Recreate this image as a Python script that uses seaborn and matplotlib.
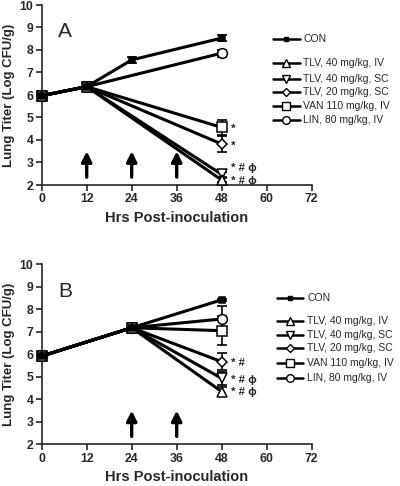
import numpy as np
import pandas as pd
import matplotlib
matplotlib.use("Agg")
import matplotlib.pyplot as plt
import seaborn as sns
from matplotlib.lines import Line2D

sns.set_style("ticks")
plt.rcParams["font.family"] = ["Liberation Sans", "DejaVu Sans"]

# ---------------- data ----------------
series_labels = ["CON", "TLV, 40 mg/kg, IV", "TLV, 40 mg/kg, SC",
                 "TLV, 20 mg/kg, SC", "VAN 110 mg/kg, IV", "LIN, 80 mg/kg, IV"]

# Panel A (dosing at 12, 24, 36 h)
a_hours_con = [0, 12, 24, 48]
a_hours = [0, 12, 48]
a_con = [5.97, 6.37, 7.56, 8.53]
a_con_err = [0.05, 0.2, 0.15, 0.15]
a_tlv40iv = [5.97, 6.37, 2.22]
a_tlv40iv_err = [0.05, 0.2, 0.08]
a_tlv40sc = [5.97, 6.37, 2.47]
a_tlv40sc_err = [0.05, 0.2, 0.1]
a_tlv20sc = [5.97, 6.37, 3.82]
a_tlv20sc_err = [0.05, 0.2, 0.35]
a_van = [5.97, 6.37, 4.56]
a_van_err = [0.05, 0.2, 0.35]
a_lin = [5.97, 6.37, 7.86]
a_lin_err = [0.05, 0.2, 0.15]
a_arrows = [12, 24, 36]
a_marks = ["*", "*", "* # ϕ", "* # ϕ"]
a_mark_y = [4.5, 3.75, 2.76, 2.2]

# Panel B (dosing at 24, 36 h)
b_hours = [0, 24, 48]
b_con = [5.92, 7.18, 8.42]
b_con_err = [0.05, 0.12, 0.05]
b_tlv40iv = [5.92, 7.18, 4.34]
b_tlv40iv_err = [0.05, 0.12, 0.2]
b_tlv40sc = [5.92, 7.18, 4.93]
b_tlv40sc_err = [0.05, 0.12, 0.3]
b_tlv20sc = [5.92, 7.18, 5.67]
b_tlv20sc_err = [0.05, 0.12, 0.38]
b_van = [5.92, 7.18, 7.05]
b_van_err = [0.05, 0.12, 0.65]
b_lin = [5.92, 7.18, 7.57]
b_lin_err = [0.05, 0.12, 0.58]
b_arrows = [24, 36]
b_marks = ["* #", "* # ϕ", "* # ϕ"]
b_mark_y = [5.6, 4.88, 4.32]

x_ticks = [0, 12, 24, 36, 48, 60, 72]
y_ticks = [2, 3, 4, 5, 6, 7, 8, 9, 10]

# ---------------- styles ----------------
styles = {
    "CON": dict(marker="s", ms=4, mfc="black"),
    "TLV, 40 mg/kg, IV": dict(marker="^", ms=7.5, mfc="white"),
    "TLV, 40 mg/kg, SC": dict(marker="v", ms=7.5, mfc="white"),
    "TLV, 20 mg/kg, SC": dict(marker="D", ms=5, mfc="white"),
    "VAN 110 mg/kg, IV": dict(marker="s", ms=6.5, mfc="white"),
    "LIN, 80 mg/kg, IV": dict(marker="o", ms=7, mfc="white"),
}
legend_ms = {"CON": 3.5, "TLV, 40 mg/kg, IV": 6, "TLV, 40 mg/kg, SC": 5.5,
             "TLV, 20 mg/kg, SC": 4, "VAN 110 mg/kg, IV": 5.5, "LIN, 80 mg/kg, IV": 5.5}


def build(hours_con, hours, vals):
    rows = []
    for lab, (v, e) in zip(series_labels, vals):
        hh = hours_con if lab == "CON" else hours
        for h, y, er in zip(hh, v, e):
            rows.append(dict(series=lab, hours=h, titer=y, err=er))
    return pd.DataFrame(rows)


dfA = build(a_hours_con, a_hours, [(a_con, a_con_err), (a_tlv40iv, a_tlv40iv_err),
                                   (a_tlv40sc, a_tlv40sc_err), (a_tlv20sc, a_tlv20sc_err),
                                   (a_van, a_van_err), (a_lin, a_lin_err)])
dfB = build(b_hours, b_hours, [(b_con, b_con_err), (b_tlv40iv, b_tlv40iv_err),
                               (b_tlv40sc, b_tlv40sc_err), (b_tlv20sc, b_tlv20sc_err),
                               (b_van, b_van_err), (b_lin, b_lin_err)])

W, H = 400, 486
fig = plt.figure(figsize=(W / 100, H / 100), dpi=100)


def px_rect(x0, y0, x1, y1):
    return [x0 / W, 1 - y1 / H, (x1 - x0) / W, (y1 - y0) / H]


axA = fig.add_axes(px_rect(41.7, 5, 311.7, 185))
axB = fig.add_axes(px_rect(41.7, 264.3, 311.7, 444.3))


def draw_panel(ax, df, letter, arrows, marks, mark_y):
    order = series_labels[::-1]
    for lab in order:
        sub = df[df.series == lab]
        st = styles[lab]
        ax.errorbar(sub.hours, sub.titer, yerr=sub.err, fmt="none", ecolor="black",
                    elinewidth=1.2, capsize=3.5, capthick=1.2, zorder=2, clip_on=False)
        sns.lineplot(data=sub, x="hours", y="titer", ax=ax, color="black", lw=2.2,
                     marker=st["marker"], markersize=st["ms"], markerfacecolor=st["mfc"],
                     markeredgecolor="black", markeredgewidth=1.1, zorder=3,
                     clip_on=False, errorbar=None, legend=False)
    ax.set_xlim(0, 72)
    ax.set_ylim(2, 10)
    ax.set_xticks(x_ticks)
    ax.set_yticks(y_ticks)
    ax.set_xticklabels([str(t) for t in x_ticks], fontsize=8.8, fontweight="bold")
    ax.set_yticklabels([str(t) for t in y_ticks], fontsize=8.8, fontweight="bold")
    ax.tick_params(direction="out", length=4, width=1.2, pad=2)
    for s in ["top", "right"]:
        ax.spines[s].set_visible(False)
    for s in ["left", "bottom"]:
        ax.spines[s].set_linewidth(1.2)
    ax.set_xlabel("Hrs Post-inoculation", fontsize=10.5, fontweight="bold")
    ax.set_ylabel("Lung Titer (Log CFU/g)", fontsize=9.5, fontweight="bold")
    ax.xaxis.set_label_coords(0.5, -0.145)
    ax.yaxis.set_label_coords(-0.1, 0.5)
    ax.text(6.2, 8.8, letter, fontsize=15, ha="center", va="center")
    for x in arrows:
        ax.annotate("", xy=(x, 3.5), xytext=(x, 2.35),
                    arrowprops=dict(arrowstyle="-|>,head_length=0.6,head_width=0.3",
                                    lw=2.4, color="black", shrinkA=0, shrinkB=0))
    for m, y in zip(marks, mark_y):
        ax.text(50.5, y, m, fontsize=8.2, fontweight="bold", ha="left", va="center",
                clip_on=False)


draw_panel(axA, dfA, "A", a_arrows, a_marks, a_mark_y)
draw_panel(axB, dfB, "B", b_arrows, b_marks, b_mark_y)


def draw_legend(x0, x1, xt, ys):
    for lab, y in zip(series_labels, ys):
        yf = 1 - y / H
        st = styles[lab]
        fig.add_artist(Line2D([x0 / W, x1 / W], [yf, yf], color="black", lw=1.8,
                              transform=fig.transFigure))
        fig.add_artist(Line2D([(x0 + x1) / 2 / W], [yf], color="black", lw=0,
                              marker=st["marker"], markersize=legend_ms[lab],
                              markerfacecolor=st["mfc"], markeredgecolor="black",
                              markeredgewidth=1.0, transform=fig.transFigure))
        fig.text(xt / W, yf, lab, fontsize=7.5, ha="left", va="center")


draw_legend(272.7, 300, 303, [39, 62.7, 79, 91.7, 106, 120])
draw_legend(276.7, 302.7, 307, [298, 321, 335, 348.3, 363.3, 378.3])

fig.savefig("out.png", dpi=100)
